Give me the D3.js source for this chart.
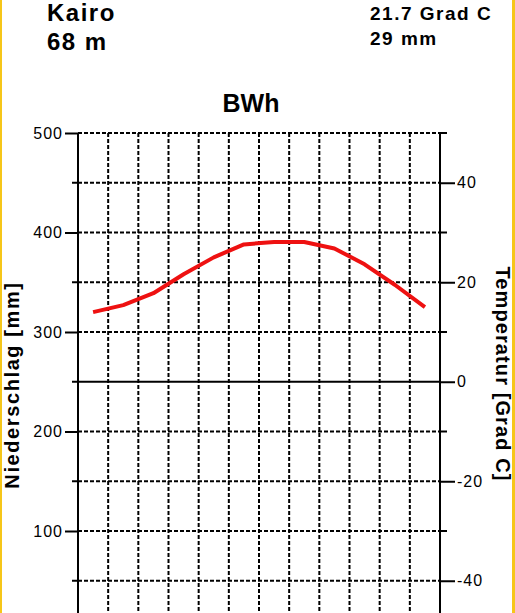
<!DOCTYPE html>
<meta charset="utf-8">
<script src="https://d3js.org/d3.v7.min.js"></script>
<style>
  body { margin: 0; background: #fff; }
  svg { display: block; font-family: "Liberation Sans", Arial, sans-serif; }
</style>
<body></body>
<script>
  // station data
  var station = 'Kairo';
  var altitude = '68 m';
  var meanTemp = '21.7 Grad C';
  var totalPrec = '29 mm';
  var climate = 'BWh';
  var months = ['J', 'F', 'M', 'A', 'M', 'J', 'J', 'A', 'S', 'O', 'N', 'D'];
  var temp = [14, 15.4, 17.8, 21.6, 25, 27.6, 28.1, 28.1, 26.8, 23.6, 19.5, 15];
  var prec = [5, 4, 4, 1, 1, 0, 0, 0, 0, 1, 4, 6];
  var precTicks = [500, 400, 300, 200, 100];
  var precMinor = [450, 350, 250, 150, 50];
  var tempTicks = [40, 20, 0, -20, -40];
  var tempMinor = [50, 30, 10, -10, -30];

  var width = 515, height = 613;
  var svg = d3.select('body').append('svg')
    .attr('width', width).attr('height', height);

  // scales
  var x = d3.scaleLinear().domain([0, 12]).range([78, 440]);
  var yP = d3.scaleLinear().domain([0, 500]).range([630.5, 133]);
  var yT = d3.scaleLinear().domain([-50, 50]).range([630.5, 133]);

  // yellow frame edges
  svg.append('rect').attr('x', 0).attr('y', 0).attr('width', 2).attr('height', height).attr('fill', '#f6c619');
  svg.append('rect').attr('x', 512).attr('y', 0).attr('width', 3).attr('height', height).attr('fill', '#f6c619');

  // grid
  var grid = svg.append('g')
    .attr('stroke', '#000').attr('stroke-width', 2).attr('stroke-dasharray', '4,2');
  grid.selectAll('line.h')
    .data(precTicks.concat(precMinor).filter(function(d) { return d !== 250; }))
    .enter().append('line')
    .attr('x1', x(0)).attr('x2', x(12))
    .attr('y1', function(d) { return yP(d); })
    .attr('y2', function(d) { return yP(d); });
  grid.selectAll('line.v')
    .data(d3.range(1, 12))
    .enter().append('line')
    .attr('x1', function(d) { return x(d); })
    .attr('x2', function(d) { return x(d); })
    .attr('y1', yP(500)).attr('y2', height);

  // axes
  var left = svg.append('g').attr('transform', 'translate(' + x(0) + ',0)')
    .call(d3.axisLeft(yP).tickValues(precTicks).tickSize(13).tickPadding(2));
  left.selectAll('.domain').remove();
  left.append('line').attr('x1', 0).attr('x2', 0).attr('y1', yP(500)).attr('y2', height)
    .attr('stroke', '#000').attr('stroke-width', 2);
  left.selectAll('.minor').data(precMinor).enter().append('line')
    .attr('x1', -6).attr('x2', 0)
    .attr('y1', function(d) { return yP(d); }).attr('y2', function(d) { return yP(d); })
    .attr('stroke', '#000').attr('stroke-width', 2);

  var right = svg.append('g').attr('transform', 'translate(' + x(12) + ',0)')
    .call(d3.axisRight(yT).tickValues(tempTicks).tickSize(15).tickPadding(2));
  right.selectAll('.domain').remove();
  right.append('line').attr('x1', 0).attr('x2', 0).attr('y1', yT(50)).attr('y2', height)
    .attr('stroke', '#000').attr('stroke-width', 2);
  right.selectAll('.minor').data(tempMinor).enter().append('line')
    .attr('x1', 0).attr('x2', 7)
    .attr('y1', function(d) { return yT(d); }).attr('y2', function(d) { return yT(d); })
    .attr('stroke', '#000').attr('stroke-width', 2);
  right.selectAll('.tick text').text(function(d) { return d < 0 ? '-' + Math.abs(d) : d; });

  svg.selectAll('.tick line').attr('stroke', '#000').attr('stroke-width', 2);
  svg.selectAll('.tick text')
    .attr('font-family', '"Liberation Sans", Arial, sans-serif')
    .attr('font-size', 16).attr('letter-spacing', 1).attr('fill', '#000');

  // zero temperature line
  svg.append('line')
    .attr('x1', x(0)).attr('x2', x(12))
    .attr('y1', yT(0)).attr('y2', yT(0))
    .attr('stroke', '#000').attr('stroke-width', 2);

  // precipitation (below visible area)
  svg.append('path').datum(prec)
    .attr('fill', 'none').attr('stroke', '#0000ff').attr('stroke-width', 3)
    .attr('d', d3.line()
      .x(function(d, i) { return x(i + 0.5); })
      .y(function(d) { return yP(d); }));

  // temperature
  svg.append('path').datum(temp)
    .attr('fill', 'none').attr('stroke', '#ee1111').attr('stroke-width', 4)
    .attr('stroke-linejoin', 'round')
    .attr('d', d3.line()
      .x(function(d, i) { return x(i + 0.5); })
      .y(function(d) { return yT(d); }));

  // titles
  var bold = function(sel, size, ls) {
    return sel.attr('font-weight', 'bold').attr('font-size', size)
      .attr('letter-spacing', ls).attr('fill', '#000');
  };
  bold(svg.append('text').attr('x', 47).attr('y', 21).text(station), 24, 1.5);
  bold(svg.append('text').attr('x', 47).attr('y', 50).text(altitude), 24, 1.5);
  bold(svg.append('text').attr('x', 370).attr('y', 20).text(meanTemp), 19, 1.5);
  bold(svg.append('text').attr('x', 370).attr('y', 45).text(totalPrec), 19, 1.5);
  bold(svg.append('text').attr('x', 251).attr('y', 112).attr('text-anchor', 'middle').text(climate), 25, 0);

  bold(svg.append('text')
    .attr('transform', 'translate(19,385) rotate(-90)')
    .attr('text-anchor', 'middle').text('Niederschlag [mm]'), 20, 1.6);
  bold(svg.append('text')
    .attr('transform', 'translate(496,374) rotate(90)')
    .attr('text-anchor', 'middle').text('Temperatur [Grad C]'), 20, 1.1);
</script>
